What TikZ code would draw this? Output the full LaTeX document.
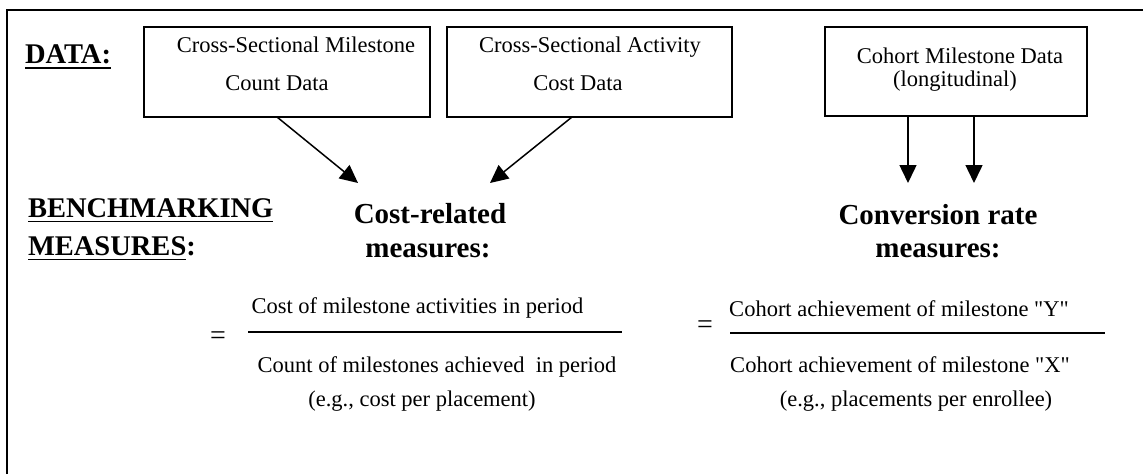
\documentclass[tikz,border=0pt]{standalone}
\usepackage{fontspec}
\setmainfont{Liberation Serif}[Ligatures=TeXOff]
\usetikzlibrary{arrows.meta,calc}
\begin{document}
\begin{tikzpicture}[x=1pt,y=-1pt,
 every node/.style={inner sep=0pt, outer sep=0pt},
 hdr/.style={font=\fontsize{28.5}{34}\selectfont\bfseries, anchor=base west},
 meas/.style={font=\fontsize{29}{34}\selectfont\bfseries, anchor=base},
 txt/.style={font=\fontsize{22.5}{27}\selectfont, anchor=base},
 eqs/.style={font=\fontsize{28}{32}\selectfont, anchor=center},
 databox/.style={draw, line width=1.5pt},
 arr/.style={line width=1.5pt, -{Triangle[length=18pt,width=17pt]}},
 uline/.style={line width=1.8pt},
 frame/.style={line width=1.8pt},
 fbar/.style={line width=1.5pt}]
\useasboundingbox (0,0) rectangle (1143,474);
% frame
\draw[frame] (7,474) -- (7,10) -- (1143,10);
% data boxes
\node[databox, minimum width=286pt, minimum height=90pt] (box1) at (287,72) {};
\node[databox, minimum width=285pt, minimum height=90pt] (box2) at (589.5,72) {};
\node[databox, minimum width=262pt, minimum height=89pt] (box3) at (956,71.5) {};
\node[txt] (b1a) at (296,52) {Cross-Sectional Milestone};
\node[txt] (b1b) at (277,90) {Count Data};
\node[txt] (b2a) at (590,52) {Cross-Sectional Activity};
\node[txt] (b2b) at (578,90) {Cost Data};
\node[txt] (b3a) at (960,63) {Cohort Milestone Data};
\node[txt] (b3b) at (955,86) {(longitudinal)};
% headings
\node[hdr] (dataT) at (25,63) {DATA:};
\draw[uline] ([yshift=-5pt]dataT.base west) -- ([yshift=-5pt]dataT.base east);
\node[hdr] (benchT) at (28,217) {BENCHMARKING};
\draw[uline] ([yshift=-4.5pt]benchT.base west) -- ([yshift=-4.5pt]benchT.base east);
\node[hdr] (measT) at (28,255) {MEASURES};
\node[hdr] (measC) at (measT.base east) {:};
\draw[uline] ([yshift=-4.5pt]measT.base west) -- ([yshift=-4.5pt]measT.base east);
% measure headings
\node[meas] (cost1) at (430,223) {Cost-related};
\node[meas] (cost2) at (428,257) {measures:};
\node[meas] (conv1) at (938,224) {Conversion rate};
\node[meas] (conv2) at (938,257) {measures:};
% arrows
\coordinate (t1) at (358,183);
\coordinate (t2) at (490,183);
\coordinate (t3) at (908,183);
\coordinate (t4) at (974,183);
\draw[arr] ($(box1.south)+(-10,0)$) -- (t1);
\draw[arr] ($(box2.south)+(-17.5,0)$) -- (t2);
\draw[arr] ($(box3.south)+(-48,0)$) -- (t3);
\draw[arr] ($(box3.south)+(18,0)$) -- (t4);
% fraction 1
\node[eqs] (eq1) at (218,338) {=};
\node[txt] (n1) at (417.5,313) {Cost of milestone activities in period};
\coordinate (bar1w) at (248,332);
\coordinate (bar1e) at (622,332);
\draw[fbar] (bar1w) -- (bar1e);
\node[txt] (d1) at (437,372) {Count of milestones achieved\ \ in period};
% fraction 2
\node[eqs] (eq2) at (705,327) {=};
\node[txt] (n2) at (899,316) {Cohort achievement of milestone "Y"};
\coordinate (bar2w) at (730,333);
\coordinate (bar2e) at (1105,333);
\draw[fbar] (bar2w) -- (bar2e);
\node[txt] (d2) at (900,372) {Cohort achievement of milestone "X"};
% examples
\node[txt] (ex1) at (422,406) {(e.g., cost per placement)};
\node[txt] (ex2) at (916,406) {(e.g., placements per enrollee)};
\end{tikzpicture}
\end{document}
